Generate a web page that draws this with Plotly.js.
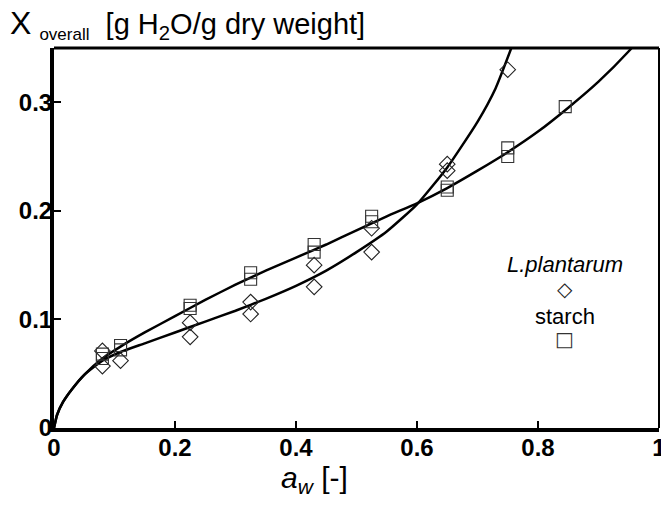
<!DOCTYPE html>
<html>
<head>
<meta charset="utf-8">
<script src="https://cdn.plot.ly/plotly-3.0.1.min.js"></script>
<style>html,body{margin:0;padding:0;background:#fff;}#chart{width:661px;height:507px;}</style>
</head>
<body>
<div id="chart"></div>
<script>
// Measured points
var awPlant = [0.08, 0.08, 0.11, 0.225, 0.225, 0.325, 0.325, 0.43, 0.43, 0.525, 0.525, 0.65, 0.65, 0.75];
var xPlant  = [0.071, 0.057, 0.062, 0.097, 0.084, 0.116, 0.105, 0.150, 0.130, 0.184, 0.162, 0.243, 0.237, 0.330];
var awStarch = [0.08, 0.08, 0.11, 0.11, 0.225, 0.225, 0.325, 0.325, 0.43, 0.43, 0.525, 0.525, 0.65, 0.65, 0.75, 0.75, 0.845];
var xStarch  = [0.068, 0.064, 0.076, 0.072, 0.113, 0.110, 0.143, 0.137, 0.169, 0.162, 0.195, 0.190, 0.222, 0.219, 0.258, 0.250, 0.296];

// Fitted curves
var fitAwPlant = [0, 0.005, 0.015, 0.03, 0.05, 0.08, 0.11, 0.15, 0.2, 0.25, 0.3, 0.35, 0.4, 0.45, 0.5, 0.55, 0.6, 0.65, 0.7, 0.73, 0.76];
var fitXPlant  = [0, 0.012, 0.024, 0.036, 0.049, 0.062, 0.070, 0.078, 0.088, 0.098, 0.108, 0.119, 0.131, 0.145, 0.162, 0.181, 0.206, 0.240, 0.282, 0.313, 0.356];
var fitAwStarch = [0, 0.005, 0.015, 0.03, 0.05, 0.08, 0.11, 0.15, 0.2, 0.25, 0.3, 0.35, 0.4, 0.45, 0.5, 0.55, 0.6, 0.65, 0.7, 0.75, 0.8, 0.85, 0.9, 0.95, 0.97];
var fitXStarch  = [0, 0.012, 0.024, 0.036, 0.049, 0.064, 0.075, 0.088, 0.103, 0.118, 0.132, 0.145, 0.157, 0.169, 0.182, 0.195, 0.207, 0.221, 0.237, 0.254, 0.273, 0.295, 0.319, 0.347, 0.360];

var xTicks = [0, 0.2, 0.4, 0.6, 0.8, 1];
var xTickText = ['0', '0.2', '0.4', '0.6', '0.8', '1'];
var yTicks = [0, 0.1, 0.2, 0.3];
var yTickText = ['0', '0.1', '0.2', '0.3'];

var legendNames = ['L.plantarum', 'starch'];

var font = 'Liberation Sans, Arial, sans-serif';

var traces = [
  {x: fitAwPlant, y: fitXPlant, mode: 'lines', line: {color: '#000', width: 2.5, shape: 'spline', smoothing: 0.5}, hoverinfo: 'skip'},
  {x: fitAwStarch, y: fitXStarch, mode: 'lines', line: {color: '#000', width: 2.5, shape: 'spline', smoothing: 0.5}, hoverinfo: 'skip'},
  {x: awPlant, y: xPlant, mode: 'markers', name: legendNames[0],
   marker: {symbol: 'diamond-open', size: 12, color: '#222', line: {width: 1.1, color: '#222'}}},
  {x: awStarch, y: xStarch, mode: 'markers', name: legendNames[1],
   marker: {symbol: 'square-open', size: 12, color: '#333', line: {width: 1.1, color: '#333'}}}
];

var tickFont = {family: font, size: 24, color: '#000', weight: 'bold'};

var layout = {
  width: 661, height: 507,
  margin: {l: 54, r: 2, t: 48, b: 79},
  paper_bgcolor: '#fff', plot_bgcolor: '#fff',
  showlegend: false,
  font: {family: font, color: '#000'},
  xaxis: {
    range: [0, 1], showgrid: false, zeroline: false,
    showline: true, linewidth: 4, linecolor: '#000',
    ticks: 'inside', ticklen: 7, tickwidth: 2, tickcolor: '#000',
    tickvals: xTicks, ticktext: xTickText, ticklabelstandoff: -5,
    ticklabeloverflow: 'allow',
    tickfont: tickFont
  },
  yaxis: {
    range: [0, 0.35], showgrid: false, zeroline: false,
    showline: true, linewidth: 4, linecolor: '#000',
    ticks: 'inside', ticklen: 7, tickwidth: 2, tickcolor: '#000',
    tickvals: yTicks, ticktext: yTickText, ticklabelstandoff: -7,
    ticklabeloverflow: 'allow',
    tickfont: tickFont
  },
  shapes: [
    {type: 'line', xref: 'paper', yref: 'paper', x0: 0, x1: 1, y0: 1, y1: 1, line: {color: '#000', width: 3}},
    {type: 'line', xref: 'paper', yref: 'paper', x0: 1, x1: 1, y0: 0, y1: 1, line: {color: '#000', width: 2}}
  ],
  annotations: [
    {xref: 'paper', yref: 'paper', x: -0.076, y: 1.118, xanchor: 'left', yanchor: 'top', showarrow: false,
     text: '<span style="font-size:32px">X</span> <sub><span style="font-size:17px">overall</span></sub>&nbsp;&nbsp;[g H<sub>2</sub>O/g dry weight]',
     font: {family: font, size: 29, color: '#000'}},
    {xref: 'paper', yref: 'paper', x: 0.43, y: -0.082, xanchor: 'center', yanchor: 'top', showarrow: false,
     text: '<i>a</i><sub><i>w</i></sub> [-]', font: {family: font, size: 30, color: '#000'}},
    {xref: 'paper', yref: 'paper', x: 0.844, y: 0.43, xanchor: 'center', yanchor: 'middle', showarrow: false,
     text: '<i>' + legendNames[0] + '</i>', font: {family: font, size: 22, color: '#000'}},
    {xref: 'paper', yref: 'paper', x: 0.844, y: 0.366, xanchor: 'center', yanchor: 'middle', showarrow: false,
     text: '\u25C7', font: {family: 'DejaVu Sans', size: 20, color: '#222'}},
    {xref: 'paper', yref: 'paper', x: 0.844, y: 0.293, xanchor: 'center', yanchor: 'middle', showarrow: false,
     text: legendNames[1], font: {family: font, size: 22, color: '#000'}},
    {xref: 'paper', yref: 'paper', x: 0.844, y: 0.234, xanchor: 'center', yanchor: 'middle', showarrow: false,
     text: '\u25A1', font: {family: 'DejaVu Sans', size: 20, color: '#333'}}
  ]
};

Plotly.newPlot('chart', traces, layout, {displayModeBar: false, staticPlot: true});
</script>
</body>
</html>
